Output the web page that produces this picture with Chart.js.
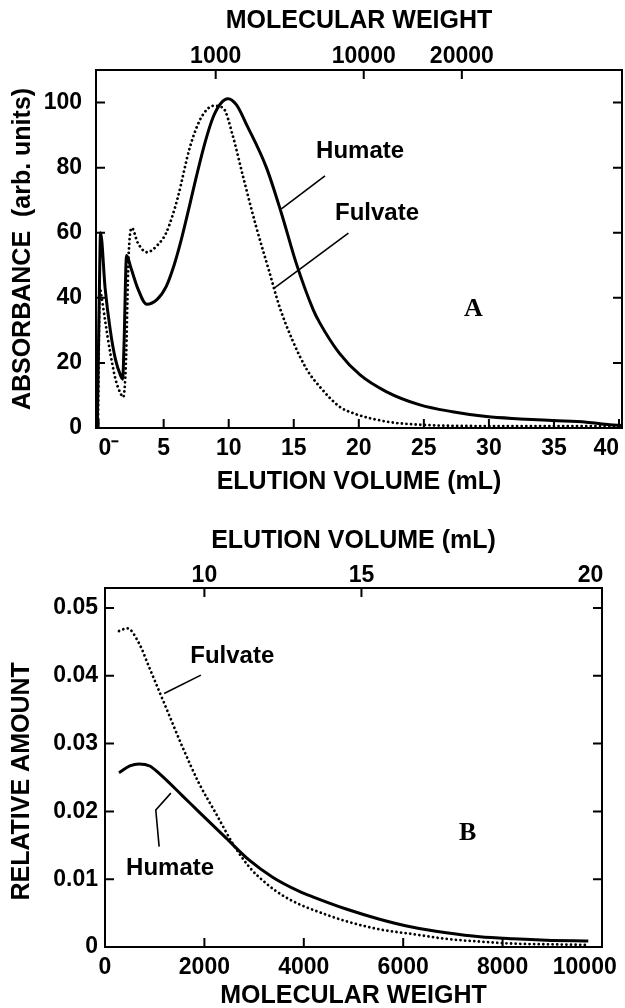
<!DOCTYPE html>
<html><head><meta charset="utf-8">
<script src="https://cdn.jsdelivr.net/npm/chart.js@4.4.0/dist/chart.umd.min.js"></script>
<style>
html,body{margin:0;padding:0;background:#fff;}
#wrapA{position:absolute;left:0;top:0;width:625px;height:500px;}
#wrapB{position:absolute;left:0;top:500px;width:625px;height:508px;}
</style></head><body>
<div id="wrapA"><canvas id="chartA" width="625" height="500"></canvas></div>
<div id="wrapB"><canvas id="chartB" width="625" height="508"></canvas></div>
<script>
// ---------- Panel A data (elution profile) ----------
const humateVolA = [-0.1, 0.05, 0.15, 0.5, 0.9, 1.3, 1.7, 1.85, 1.95, 2.15, 2.5, 3.0, 3.7, 4.5, 5.2, 5.8, 6.3, 7.0, 7.5, 8.2, 8.8, 9.4, 9.95, 10.6, 11.4, 12.9, 14.05, 15.2, 16.5, 17.0, 18.5, 20.1, 22.1, 24.7, 27.2, 29.8, 32.4, 34.9, 37.5, 39.3, 40.2];
const humateAbsA = [0, 40, 60, 43, 30, 21, 16, 15, 25, 53, 49, 43, 38, 39.5, 43.5, 50, 57, 68.5, 77, 88, 95.5, 99.8, 101.2, 99.3, 93, 80, 66, 50.5, 36.3, 32.3, 23, 16.3, 11.2, 7.1, 5, 3.5, 2.8, 2.3, 1.8, 1.0, 0.8];
const fulvateVolA = [-0.05, 0.1, 0.2, 0.5, 0.9, 1.3, 1.7, 1.9, 2.1, 2.3, 2.55, 3.0, 3.7, 4.6, 5.2, 5.7, 6.1, 7.0, 7.77, 8.5, 8.9, 9.6, 10.3, 11.1, 12.1, 13.15, 13.9, 14.9, 16.0, 17.0, 18.5, 19.6, 22.1, 24.7, 30, 35, 40.2];
const fulvateAbsA = [0, 43, 41, 33, 23, 15, 10.5, 9.5, 20, 52, 61.5, 57, 54, 56.5, 60, 65.5, 71, 86, 94.5, 98.5, 99, 98.2, 90, 77.3, 62, 47.6, 37.3, 27, 18, 12.7, 6.6, 4.5, 2, 1, 0.6, 0.6, 0.6];
const elutionTicksA = [0, 5, 10, 15, 20, 25, 30, 35, 40];
const elutionLabelsA = ['0\u207B', '5', '10', '15', '20', '25', '30', '35', '40'];
const absTicksA = [0, 20, 40, 60, 80, 100];
const mwTickPosA = [9.0, 20.38, 27.92];          // elution volume where each MW tick sits
const mwTickLabelsA = ['1000', '10000', '20000'];

// ---------- Panel B data (MW distribution) ----------
const humateMwB = [282, 500, 685, 900, 1089, 1559, 1895, 2433, 2903, 3373, 3911, 4180, 4852, 5524, 6196, 6868, 7540, 8212, 8884, 9724];
const humateAmtB = [0.0257, 0.0267, 0.0270, 0.0267, 0.0256, 0.0223, 0.0199, 0.0161, 0.0128, 0.0103, 0.0082, 0.0074, 0.0056, 0.0041, 0.0029, 0.0021, 0.0015, 0.0012, 0.0010, 0.0009];
const fulvateMwB = [282, 450, 685, 887, 1223, 1559, 1895, 2232, 2567, 2903, 3240, 3575, 3911, 4180, 4852, 5524, 6196, 6868, 7540, 8212, 8884, 9724];
const fulvateAmtB = [0.0466, 0.0470, 0.0448, 0.0413, 0.0354, 0.0295, 0.0241, 0.0197, 0.0153, 0.0118, 0.0094, 0.0076, 0.0063, 0.0055, 0.0038, 0.0026, 0.0019, 0.0012, 0.0008, 0.0005, 0.0004, 0.0003];
const mwTicksB = [0, 2000, 4000, 6000, 8000, 10000];
const mwLabelsB = ['0', '2000', '4000', '6000', '8000', '10000'];
const amtTicksB = [0, 0.01, 0.02, 0.03, 0.04, 0.05];
const amtLabelsB = ['0', '0.01', '0.02', '0.03', '0.04', '0.05'];
const elutionTickPosB = [2000, 5160, 10000];     // MW where each elution-volume tick sits
const elutionLabelsB = ['10', '15', '20'];

// ---------- helpers ----------
const F = "'Liberation Sans', Arial, sans-serif";
const tickFont = {family: F, size: 23, weight: 'bold', lineHeight: 1};
const titleFont = {family: F, size: 25, weight: 'bold', lineHeight: 1};

function fix(size) {
  return function (s) {
    if (s.isHorizontal()) s.height = size; else s.width = size;
    s.paddingLeft = 0; s.paddingRight = 0; s.paddingTop = 0; s.paddingBottom = 0;
  };
}
function setTicks(arr) { return function (s) { s.ticks = arr.map(v => ({value: v})); }; }
function pts(xs, ys) { return xs.map((x, i) => ({x: x, y: ys[i]})); }

function framePlugin(len) {
  return {
    id: 'frame',
    afterDatasetsDraw(chart) {
      const {ctx, chartArea: a, scales} = chart;
      ctx.save();
      ctx.strokeStyle = '#000';
      ctx.lineWidth = 2;
      ctx.strokeRect(a.left, a.top, a.right - a.left, a.bottom - a.top);
      ctx.beginPath();
      Object.keys(scales).forEach(id => {
        const s = scales[id];
        s.ticks.forEach(t => {
          const p = s.getPixelForValue(t.value);
          if (s.position === 'bottom') { ctx.moveTo(p, a.bottom); ctx.lineTo(p, a.bottom - len); }
          else if (s.position === 'top') { ctx.moveTo(p, a.top); ctx.lineTo(p, a.top + len); }
          else if (s.position === 'left') {
            ctx.moveTo(a.left, p); ctx.lineTo(a.left + len, p);
            ctx.moveTo(a.right, p); ctx.lineTo(a.right - len, p);
          }
        });
      });
      ctx.stroke();
      ctx.restore();
    }
  };
}
function notesPlugin(cfg) {
  return {
    id: 'notes',
    afterDatasetsDraw(chart) {
      const {ctx, scales} = chart;
      const xs = scales.x, ys = scales.y;
      ctx.save();
      ctx.strokeStyle = '#000'; ctx.fillStyle = '#000'; ctx.lineWidth = 1.6;
      cfg.lines.forEach(ln => {
        ctx.beginPath();
        ln.forEach((pt, i) => {
          const px = xs.getPixelForValue(pt[0]), py = ys.getPixelForValue(pt[1]);
          if (i) ctx.lineTo(px, py); else ctx.moveTo(px, py);
        });
        ctx.stroke();
      });
      cfg.texts.forEach(t => {
        ctx.font = t.font; ctx.textAlign = 'center'; ctx.textBaseline = 'middle';
        ctx.fillText(t.text, xs.getPixelForValue(t.x), ys.getPixelForValue(t.y));
      });
      ctx.restore();
    }
  };
}
const solidStyle = {borderColor: '#000', borderWidth: 3, pointRadius: 0, fill: false, cubicInterpolationMode: 'monotone'};
const dotStyle = {borderColor: '#000', borderWidth: 2.8, borderDash: [0.01, 4.6], borderCapStyle: 'round', pointRadius: 0, fill: false, cubicInterpolationMode: 'monotone'};
const common = {
  responsive: false, animation: false, devicePixelRatio: 1,
  plugins: {legend: {display: false}, tooltip: {enabled: false}},
  events: []
};

// ---------- Chart A ----------
new Chart(document.getElementById('chartA'), {
  type: 'line',
  data: {datasets: [
    Object.assign({label: 'Humate', data: pts(humateVolA, humateAbsA)}, solidStyle),
    Object.assign({label: 'Fulvate', data: pts(fulvateVolA, fulvateAbsA)}, dotStyle)
  ]},
  options: Object.assign({}, common, {
    layout: {padding: {left: 0, right: 3, top: 0, bottom: 0}},
    scales: {
      x: {type: 'linear', position: 'bottom', min: -0.2, max: 40.23,
        afterBuildTicks: setTicks(elutionTicksA), afterFit: fix(72),
        grid: {display: false, drawTicks: false}, border: {display: false},
        ticks: {autoSkip: false, maxRotation: 0, padding: 9, align: 'inner', color: '#000', font: tickFont,
          callback: (v, i) => elutionLabelsA[i]},
        title: {display: true, text: 'ELUTION VOLUME (mL)', color: '#000', font: titleFont, padding: {top: 0, bottom: 5}}},
      x2: {type: 'linear', axis: 'x', position: 'top', min: -0.2, max: 40.23,
        afterBuildTicks: setTicks(mwTickPosA), afterFit: fix(70),
        grid: {display: false, drawTicks: false}, border: {display: false},
        ticks: {autoSkip: false, maxRotation: 0, padding: 2, color: '#000', font: tickFont,
          callback: (v, i) => mwTickLabelsA[i]},
        title: {display: true, text: 'MOLECULAR WEIGHT', color: '#000', font: titleFont, padding: {top: 9, bottom: 0}}},
      y: {type: 'linear', position: 'left', min: 0, max: 110,
        afterBuildTicks: setTicks(absTicksA), afterFit: fix(96),
        grid: {display: false, drawTicks: false}, border: {display: false},
        ticks: {autoSkip: false, padding: 14, color: '#000', font: tickFont, callback: v => String(v)},
        title: {display: true, text: 'ABSORBANCE  (arb. units)', color: '#000', font: titleFont, padding: {top: 11, bottom: 0}}}
    }
  }),
  plugins: [framePlugin(9), notesPlugin({
    lines: [[[14.05, 67.3], [17.4, 77.5]], [[13.5, 43], [19.2, 59.9]]],
    texts: [
      {text: 'Humate', x: 20.1, y: 84.9, font: "bold 24px " + F},
      {text: 'Fulvate', x: 21.4, y: 65.8, font: "bold 24px " + F},
      {text: 'A', x: 28.8, y: 36.6, font: "bold 26px 'Liberation Serif', serif"}
    ]
  })]
});

// ---------- Chart B ----------
new Chart(document.getElementById('chartB'), {
  type: 'line',
  data: {datasets: [
    Object.assign({label: 'Humate', data: pts(humateMwB, humateAmtB)}, solidStyle),
    Object.assign({label: 'Fulvate', data: pts(fulvateMwB, fulvateAmtB)}, dotStyle)
  ]},
  options: Object.assign({}, common, {
    layout: {padding: {left: 0, right: 23, top: 0, bottom: 0}},
    scales: {
      x: {type: 'linear', position: 'bottom', min: 0, max: 10000,
        afterBuildTicks: setTicks(mwTicksB), afterFit: fix(61),
        grid: {display: false, drawTicks: false}, border: {display: false},
        ticks: {autoSkip: false, maxRotation: 0, padding: 9, color: '#000', font: tickFont,
          callback: (v, i, arr) => i === arr.length - 1 ? mwLabelsB[i] + '\u2003\u2002' : mwLabelsB[i]},
        title: {display: true, text: 'MOLECULAR WEIGHT', color: '#000', font: titleFont, padding: {top: 0, bottom: -1}}},
      x2: {type: 'linear', axis: 'x', position: 'top', min: 0, max: 10000,
        afterBuildTicks: setTicks(elutionTickPosB), afterFit: fix(88),
        grid: {display: false, drawTicks: false}, border: {display: false},
        ticks: {autoSkip: false, maxRotation: 0, padding: 1, color: '#000', font: tickFont,
          callback: (v, i, arr) => i === arr.length - 1 ? elutionLabelsB[i] + '\u2003' : elutionLabelsB[i]},
        title: {display: true, text: 'ELUTION VOLUME (mL)', color: '#000', font: titleFont, padding: {top: 29, bottom: 0}}},
      y: {type: 'linear', position: 'left', min: 0, max: 0.05295,
        afterBuildTicks: setTicks(amtTicksB), afterFit: fix(105),
        grid: {display: false, drawTicks: false}, border: {display: false},
        ticks: {autoSkip: false, padding: 7, color: '#000', font: tickFont, callback: (v, i) => amtLabelsB[i]},
        title: {display: true, text: 'RELATIVE AMOUNT    ', color: '#000', font: titleFont, padding: {top: 10, bottom: 0}}}
    }
  }),
  plugins: [framePlugin(9), notesPlugin({
    lines: [[[1190, 0.0374], [1929, 0.0401]], [[1089, 0.0148], [1022, 0.0202], [1325, 0.0227]]],
    texts: [
      {text: 'Fulvate', x: 2560, y: 0.0429, font: "bold 24px " + F},
      {text: 'Humate', x: 1310, y: 0.01165, font: "bold 24px " + F},
      {text: 'B', x: 7298, y: 0.0168, font: "bold 26px 'Liberation Serif', serif"}
    ]
  })]
});
</script>
</body></html>
